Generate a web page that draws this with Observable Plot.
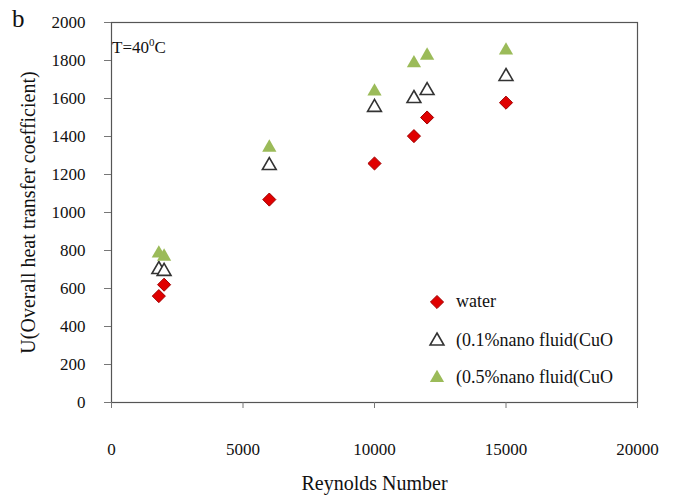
<!DOCTYPE html>
<html><head><meta charset="utf-8">
<script src="https://cdn.jsdelivr.net/npm/d3@7"></script>
<script src="https://cdn.jsdelivr.net/npm/@observablehq/plot@0.6"></script>
<style>
body{margin:0;background:#fff;}
#wrap{position:relative;width:679px;height:496px;font-family:"Liberation Serif","Times New Roman",serif;color:#111;}
.lbl{position:absolute;white-space:nowrap;line-height:1;}
.leg{position:absolute;left:428px;display:flex;align-items:center;font-size:18px;white-space:nowrap;}
.leg svg{margin-right:10px;}
sup{font-size:11px;vertical-align:7px;}
</style></head><body><div id="wrap"></div>
<script>
const reynolds = [1800, 2000, 6000, 10000, 11500, 12000, 15000];
const water    = [560, 620, 1068, 1258, 1402, 1500, 1578];
const nano01   = [700, 690, 1247, 1553, 1600, 1642, 1716];
const nano05   = [785, 768, 1342, 1637, 1786, 1826, 1853];
const seriesNames = ["water", "(0.1%nano fluid(CuO", "(0.5%nano fluid(CuO"];
const xTicks = [0, 5000, 10000, 15000, 20000];
const yTicks = [0, 200, 400, 600, 800, 1000, 1200, 1400, 1600, 1800, 2000];
const xTitle = "Reynolds Number";
const yTitle = "U(Overall heat transfer coefficient)";
const panelLetter = "b";
const tempNote = ["T=40", "0", "C"];

const rowsW = reynolds.map((x, i) => ({x, y: water[i]}));
const rows1 = reynolds.map((x, i) => ({x, y: nano01[i]}));
const rows5 = reynolds.map((x, i) => ({x, y: nano05[i]}));

const chart = Plot.plot({
  width: 679, height: 496,
  marginLeft: 111, marginRight: 42, marginTop: 22, marginBottom: 94,
  style: {fontFamily: '"Liberation Serif","Times New Roman",serif', fontSize: "17px", color: "#111", background: "#fff"},
  x: {domain: [0, 20000]},
  y: {domain: [0, 2000]},
  marks: [
    Plot.frame({stroke: "#555", strokeWidth: 1.2}),
    Plot.axisY({ticks: yTicks, tickSize: 7, tickPadding: 19, stroke: "#777", fontSize: 17,
      tickFormat: d => String(d), label: null}),
    Plot.axisX({ticks: xTicks, tickSize: 6, tickPadding: 34, stroke: "#777", fontSize: 17,
      tickFormat: d => String(d), label: null}),
    Plot.text([xTitle], {text: d => d, frameAnchor: "bottom", dy: 87, fontSize: 20, fill: "#111"}),
    Plot.text([yTitle], {text: d => d, frameAnchor: "left", textAnchor: "middle", lineAnchor: "middle", rotate: -90, dx: -83, fontSize: 20, fill: "#111"}),
    Plot.dot(rowsW, {x: "x", y: "y", symbol: "diamond2", r: 5.9, fill: "#e00000", stroke: "#a00000", strokeWidth: 1}),
    Plot.dot(rows1, {x: "x", y: "y", symbol: "triangle2", r: 6.6, fill: "#fff", stroke: "#333", strokeWidth: 1.6}),
    Plot.dot(rows5, {x: "x", y: "y", symbol: "triangle2", r: 6.8, fill: "#9bbb59", stroke: "none"})
  ]
});
const wrap = document.getElementById("wrap");
chart.style.position = "absolute"; chart.style.left = "0"; chart.style.top = "0";
wrap.appendChild(chart);

const b = document.createElement("div");
b.className = "lbl"; b.style.left = "12px"; b.style.top = "6px"; b.style.fontSize = "25px";
b.textContent = panelLetter; wrap.appendChild(b);

const t = document.createElement("div");
t.className = "lbl"; t.style.left = "112px"; t.style.top = "37px"; t.style.fontSize = "17px";
t.innerHTML = tempNote[0] + "<sup>" + tempNote[1] + "</sup>" + tempNote[2]; wrap.appendChild(t);

const legSyms = [
  {sym: d3.symbolDiamond2, size: Math.PI * 5.9 * 5.9, fill: "#e00000", stroke: "#a00000", sw: 1},
  {sym: d3.symbolTriangle2, size: Math.PI * 6.6 * 6.6, fill: "#fff", stroke: "#333", sw: 1.6},
  {sym: d3.symbolTriangle2, size: Math.PI * 6.8 * 6.8, fill: "#9bbb59", stroke: "none", sw: 0}
];
const legY = [301, 340, 377];
seriesNames.forEach((name, i) => {
  const d = document.createElement("div");
  d.className = "leg"; d.style.top = (legY[i] - 10) + "px";
  const s = legSyms[i];
  const path = d3.symbol(s.sym, s.size)();
  d.innerHTML = `<svg width="18" height="20" viewBox="-9 -10 18 20"><path d="${path}" fill="${s.fill}" stroke="${s.stroke}" stroke-width="${s.sw}"/></svg><span>${name}</span>`;
  wrap.appendChild(d);
});
</script></body></html>
